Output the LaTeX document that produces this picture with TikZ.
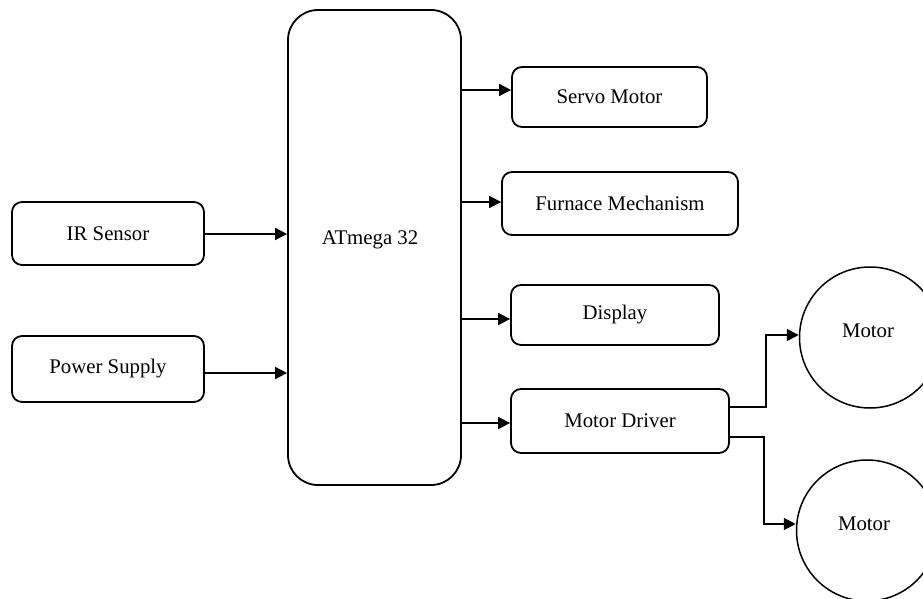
\documentclass[tikz,border=0pt]{standalone}
\usepackage{fontspec}
\setmainfont{Liberation Serif}
\usetikzlibrary{arrows.meta,calc}
\begin{document}
\begin{tikzpicture}[x=1pt,y=-1pt,
  lbl/.style={font=\fontsize{20.8}{24}\selectfont},
  box/.style={draw,line width=1.8pt,rounded corners=10pt,inner sep=0pt,lbl},
  motorc/.style={draw,line width=1.5pt,circle,minimum size=141pt,inner sep=0pt},
  arr/.style={line width=1.8pt,-{Triangle[length=12pt,width=12pt]}}]
\useasboundingbox (0,0) rectangle (923,599);
\node[box,rounded corners=30pt,minimum width=173pt,minimum height=475pt] (main) at (374.5,247.5) {};
\node[lbl] (mainlbl) at (370,240) {ATmega 32};
\node[box,minimum width=192pt,minimum height=63pt] (ir) at (108,233.5) {IR Sensor};
\node[box,minimum width=192pt,minimum height=66pt] (ps) at (108,369) {Power Supply};
\node[box,minimum width=195pt,minimum height=60pt] (servo) at (609.5,97) {Servo Motor};
\node[box,minimum width=236pt,minimum height=63pt] (furn) at (620,203.5) {Furnace Mechanism};
\node[box,minimum width=208pt,minimum height=60pt] (disp) at (615,315) {Display};
\node[box,minimum width=218pt,minimum height=64pt] (md) at (620,421) {Motor Driver};
\node[motorc] (m1) at (870,337.5) {};
\node[lbl] (m1l) at (868,331) {Motor};
\node[motorc] (m2) at (867,530.5) {};
\node[lbl] (m2l) at (864,524) {Motor};
\draw[arr] (ir.east |- 0,234) -- (main.west |- 0,234);
\draw[arr] (ps.east |- 0,373) -- (main.west |- 0,373);
\draw[arr] (main.east |- 0,90) -- (servo.west |- 0,90);
\draw[arr] (main.east |- 0,202) -- (furn.west |- 0,202);
\draw[arr] (main.east |- 0,319) -- (disp.west |- 0,319);
\draw[arr] (main.east |- 0,423) -- (md.west |- 0,423);
\draw[arr] (md.east |- 0,407) -- ++(36,0) |- (m1.west |- 0,335);
\draw[arr] (md.east |- 0,437) -- ++(34,0) |- (m2.west |- 0,524);
\end{tikzpicture}
\end{document}
